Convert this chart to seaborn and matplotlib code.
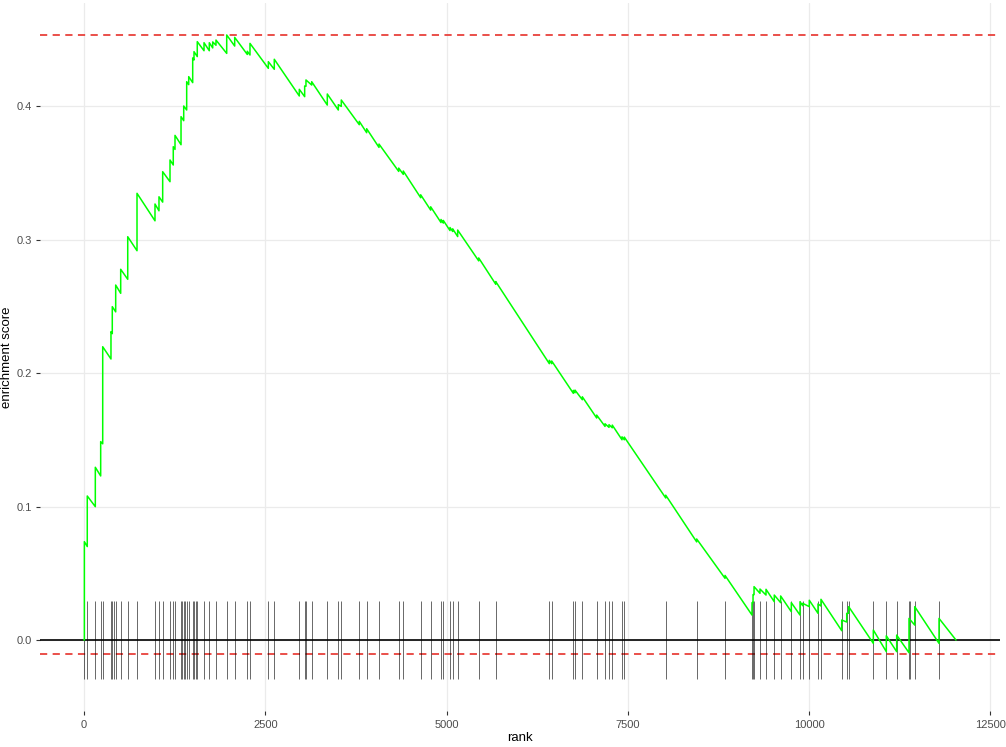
import numpy as np
import pandas as pd
import matplotlib
matplotlib.use("Agg")
import matplotlib.pyplot as plt
import seaborn as sns

# positions (rank) of the pathway genes in the ranked list
hit_ranks = [5, 45, 156, 230, 258, 372, 390, 418, 437, 506, 603, 731, 979, 1034,
             1085, 1186, 1231, 1255, 1338, 1356, 1375, 1397, 1416, 1444, 1499,
             1517, 1540, 1562, 1655, 1728, 1820, 1968, 2078, 2252, 2289, 2542,
             2624, 2969, 3043, 3061, 3140, 3355, 3507, 3548, 3796, 3898, 4068,
             4340, 4403, 4643, 4781, 4923, 4955, 5047, 5084, 5153, 5443, 5678,
             6417, 6450, 6748, 6771, 6872, 7070, 7185, 7240, 7285, 7419, 7451,
             8022, 8449, 8840, 9212, 9226, 9240, 9322, 9405, 9519, 9607, 9754,
             9874, 9911, 10002, 10122, 10163, 10449, 10518, 10545, 10885, 11064,
             11207, 11377, 11391, 11456, 11791]

# running enrichment score, vertices
es_rank = [0, 5, 5, 45, 45, 156, 156, 230, 230, 258, 258, 372, 372, 390, 390,
           437, 437, 506, 506, 603, 603, 731, 731, 979, 979, 1034, 1034, 1085,
           1085, 1186, 1186, 1231, 1231, 1255, 1255, 1338, 1338, 1375, 1375,
           1416, 1416, 1444, 1444, 1499, 1499, 1517, 1517, 1562, 1562, 1655,
           1655, 1728, 1728, 1775, 1775, 1820, 1820, 1968, 1968, 2078, 2078,
           2252, 2252, 2289, 2289, 2542, 2542, 2624, 2624, 2969, 2969, 3043,
           3043, 3061, 3061, 3140, 3140, 3355, 3355, 3507, 3507, 3548, 3548,
           3796, 3796, 3898, 3898, 4068, 4068, 4340, 4340, 4403, 4403, 4643,
           4643, 4781, 4781, 4923, 4923, 4955, 4955, 5047, 5047, 5084, 5084,
           5153, 5153, 5443, 5443, 5678, 5678, 6417, 6417, 6450, 6450, 6748,
           6748, 6771, 6771, 6872, 6872, 7070, 7070, 7185, 7185, 7240, 7240,
           7285, 7285, 7419, 7419, 7451, 7451, 8022, 8022, 8449, 8449, 8840,
           8840, 9212, 9212, 9226, 9226, 9240, 9240, 9322, 9322, 9405, 9405,
           9519, 9519, 9607, 9607, 9754, 9754, 9874, 9874, 9911, 9911, 10002,
           10002, 10122, 10122, 10163, 10163, 10449, 10449, 10518, 10518, 10545,
           10545, 10885, 10885, 11064, 11064, 11207, 11207, 11377, 11377, 11456,
           11456, 11791, 11791, 12025]
es_score = [0.0, 0.0, 0.0737, 0.0700, 0.1079, 0.0999, 0.1294, 0.1229, 0.1486,
            0.1470, 0.2197, 0.2105, 0.2310, 0.2295, 0.2497, 0.2458, 0.2659,
            0.2597, 0.2777, 0.2702, 0.3021, 0.2916, 0.3346, 0.3140, 0.3266,
            0.3215, 0.3320, 0.3280, 0.3508, 0.3433, 0.3596, 0.3558, 0.3695,
            0.3675, 0.3780, 0.3710, 0.3920, 0.3890, 0.4000, 0.3970, 0.4182,
            0.4160, 0.4220, 0.4175, 0.4360, 0.4345, 0.4407, 0.4370, 0.4482,
            0.4414, 0.4474, 0.4414, 0.4474, 0.4435, 0.4480, 0.4455, 0.4494,
            0.4394, 0.4532, 0.4449, 0.4514, 0.4386, 0.4410, 0.4382, 0.4469,
            0.4282, 0.4332, 0.4275, 0.4350, 0.4075, 0.4125, 0.4070, 0.4150,
            0.4148, 0.4195, 0.4157, 0.4182, 0.4007, 0.4090, 0.3970, 0.4010,
            0.3997, 0.4045, 0.3860, 0.3885, 0.3800, 0.3830, 0.3690, 0.3715,
            0.3510, 0.3535, 0.3488, 0.3513, 0.3313, 0.3335, 0.3220, 0.3245,
            0.3127, 0.3150, 0.3123, 0.3143, 0.3067, 0.3090, 0.3060, 0.3080,
            0.3022, 0.3071, 0.2840, 0.2862, 0.2665, 0.2685, 0.2070, 0.2095,
            0.2070, 0.2090, 0.1848, 0.1870, 0.1852, 0.1872, 0.1800, 0.1822,
            0.1663, 0.1685, 0.1600, 0.1620, 0.1593, 0.1613, 0.1590, 0.1610,
            0.1500, 0.1522, 0.1500, 0.1520, 0.1064, 0.1085, 0.0735, 0.0757,
            0.0462, 0.0484, 0.0187, 0.0280, 0.0280, 0.0340, 0.0340, 0.0400,
            0.0350, 0.0382, 0.0337, 0.0380, 0.0287, 0.0337, 0.0280, 0.0330,
            0.0212, 0.0280, 0.0187, 0.0287, 0.0257, 0.0275, 0.0250, 0.0298,
            0.0200, 0.0270, 0.0255, 0.0305, 0.0070, 0.0150, 0.0135, 0.0200,
            0.0200, 0.0250, -0.0025, 0.0075, -0.0087, 0.0032, -0.0087, 0.0037,
            -0.0095, 0.0162, 0.0112, 0.0250, -0.0025, 0.0162, 0.0]

es_max = 0.4532
es_min = -0.0105
tick_half = 0.0292
n_genes = 12025

sns.set_theme(style="whitegrid")
plt.rcParams["font.family"] = ["Liberation Sans", "DejaVu Sans"]

fig = plt.figure(figsize=(10.06, 7.47), dpi=100)
ax = fig.add_axes([40.4 / 1006, 35.8 / 747, 959.2 / 1006, 708.4 / 747])

df = pd.DataFrame({"rank": es_rank, "es": es_score})

ax.axhline(es_max, color="#e8413c", linestyle=(0, (4, 3)), linewidth=1.3, zorder=2)
ax.axhline(es_min, color="#e8413c", linestyle=(0, (4, 3)), linewidth=1.3, zorder=2)
ax.axhline(0, color="black", linewidth=1.2, zorder=3)
ax.vlines(hit_ranks, -tick_half, tick_half, color="black", linewidth=0.55,
          alpha=0.75, zorder=3)
sns.lineplot(data=df, x="rank", y="es", sort=False, estimator=None,
             color="#00ff00", linewidth=1.1, ax=ax, zorder=4)

ax.set_xlim(-0.05 * n_genes, 1.05 * n_genes)
ax.set_ylim(-0.0533, 0.4773)
ax.set_xticks([0, 2500, 5000, 7500, 10000, 12500])
ax.set_yticks([0.0, 0.1, 0.2, 0.3, 0.4])
ax.set_yticklabels(["0.0", "0.1", "0.2", "0.3", "0.4"])

ax.grid(True, color="#ebebeb", linewidth=0.9)
for s in ax.spines.values():
    s.set_visible(False)
ax.tick_params(axis="both", which="major", length=3, width=0.8, color="#333333",
               labelsize=8, labelcolor="#4d4d4d", pad=3, left=True, bottom=True)

ax.set_xlabel("rank", fontsize=9.5, color="black", labelpad=2)
ax.set_ylabel("enrichment score", fontsize=9.5, color="black", labelpad=3)

fig.savefig("out.png", dpi=100)
